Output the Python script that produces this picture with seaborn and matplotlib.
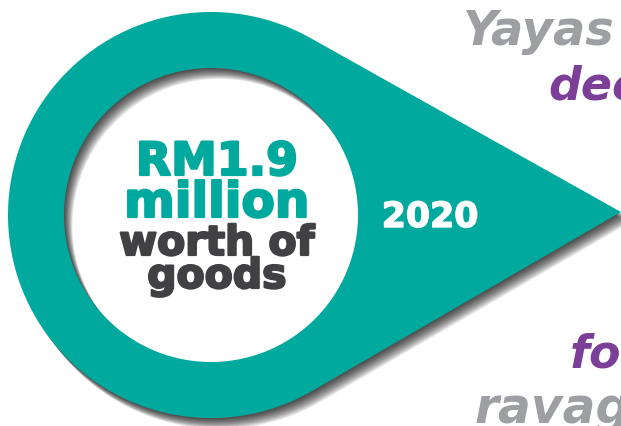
import numpy as np
import matplotlib
matplotlib.use("Agg")
import matplotlib.pyplot as plt
from matplotlib.path import Path
from matplotlib.patches import PathPatch
import matplotlib.patheffects as pe
import seaborn as sns

TEAL = "#00a99d"
DARK = "#414042"
PURPLE = "#7b3f98"
GREY = "#9d9fa2"

# text inside the ring
centre_lines = ["RM1.9", "million", "worth of", "goods"]
centre_colors = [TEAL, TEAL, DARK, DARK]
centre_sizes = [33, 35, 29.5, 29.5]
centre_baselines = [175, 217, 255, 288]

year_label = "2020"

# words cut off on the right side
side_words = ["Yayas", "dec", "fo", "ravag"]
side_colors = [GREY, PURPLE, PURPLE, GREY]
side_x = [463, 548, 570, 475]
side_baselines = [45, 100, 368, 423]
side_sizes = [34.5, 33, 33, 35]

sns.set_style("white")
plt.rcParams["font.family"] = ["DejaVu Sans"]

fig = plt.figure(figsize=(6.21, 4.26), dpi=100)
ax = fig.add_axes([0, 0, 1, 1])
ax.set_xlim(0, 621)
ax.set_ylim(426, 0)
ax.axis("off")

cx, cy, R, r = 211, 215, 203, 147
tip = np.array([621.0, 212.0])


def ring_path(dx=0.0, dy=0.0):
    d = np.hypot(tip[0] - cx, tip[1] - cy)
    base = np.arctan2(tip[1] - cy, tip[0] - cx)
    half = np.arccos(R / d)
    t = np.linspace(base - half, base + half - 2 * np.pi, 400)
    outer = np.column_stack([cx + R * np.cos(t), cy + R * np.sin(t)])
    outer = np.vstack([outer, tip, outer[:1]])
    s = np.linspace(0, 2 * np.pi, 300)
    inner = np.column_stack([cx + r * np.cos(s), cy + r * np.sin(s)])
    inner = np.vstack([inner, inner[:1]])
    verts = np.vstack([outer, inner]) + [dx, dy]
    codes = ([Path.MOVETO] + [Path.LINETO] * (len(outer) - 2) + [Path.CLOSEPOLY]
             + [Path.MOVETO] + [Path.LINETO] * (len(inner) - 2) + [Path.CLOSEPOLY])
    return Path(verts, codes)


# soft drop shadow, down and to the right
for i in range(16):
    off = 1.0 + i * 0.85
    ax.add_patch(PathPatch(ring_path(off * 0.62, off * 0.8), facecolor="black",
                           edgecolor="none", alpha=0.065, zorder=1))

ax.add_patch(PathPatch(ring_path(), facecolor=TEAL, edgecolor="none", zorder=2))

for line, col, size, yb in zip(centre_lines, centre_colors, centre_sizes, centre_baselines):
    ax.text(217, yb, line, ha="center", va="baseline", fontsize=size,
            fontweight="bold", color=col, zorder=3,
            path_effects=[pe.withStroke(linewidth=1.6, foreground=col)])

ax.text(430, 227, year_label, ha="center", va="baseline", fontsize=25,
        fontweight="bold", color="white", zorder=3,
        path_effects=[pe.withStroke(linewidth=1.0, foreground="white")])

for word, col, x, yb, size in zip(side_words, side_colors, side_x, side_baselines, side_sizes):
    ax.text(x, yb, word, ha="left", va="baseline", fontsize=size, fontweight="bold",
            style="italic", color=col, zorder=3, clip_on=False)

fig.savefig("out.png", dpi=100)
